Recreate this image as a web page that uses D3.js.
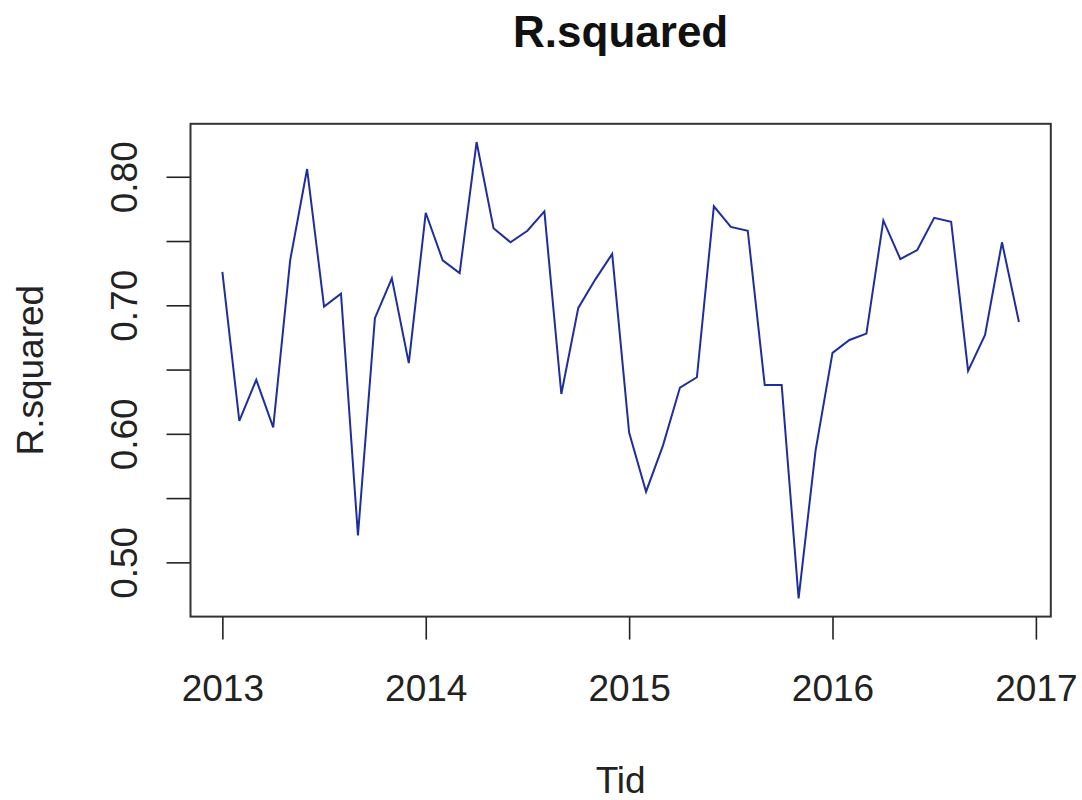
<!DOCTYPE html>
<html>
<head>
<meta charset="utf-8">
<script src="https://cdn.jsdelivr.net/npm/d3@7"></script>
<style>
  html, body { margin: 0; padding: 0; background: #fff; }
  svg { display: block; font-family: "Liberation Sans", Arial, Helvetica, sans-serif; }
</style>
</head>
<body>
<svg id="chart" width="1082" height="800"></svg>
<script>
// monthly R.squared, Jan 2013 .. Dec 2016
const startYear = 2013;
const rSquared = [
  0.726, 0.610, 0.642, 0.605, 0.735, 0.806, 0.699, 0.709, 0.521, 0.690, 0.721, 0.655,
  0.772, 0.735, 0.725, 0.827, 0.760, 0.749, 0.758, 0.773, 0.631, 0.698, 0.720, 0.740,
  0.601, 0.555, 0.591, 0.636, 0.644, 0.777, 0.761, 0.758, 0.638, 0.638, 0.472, 0.587,
  0.663, 0.673, 0.678, 0.766, 0.736, 0.743, 0.768, 0.765, 0.649, 0.677, 0.749, 0.687
];
const xTicks = [2013, 2014, 2015, 2016, 2017];
const yTicks = [0.50, 0.55, 0.60, 0.65, 0.70, 0.75, 0.80];
const yLabelled = [0.50, 0.60, 0.70, 0.80];

const titleText = "R.squared";
const xTitle = "Tid";
const yTitle = "R.squared";

const W = 1082, H = 800;
const plot = { left: 190.5, right: 1050.8, top: 123.8, bottom: 616.6 };

const data = rSquared.map((v, i) => ({ t: startYear + i / 12, v }));

// R-style 4% axis extension
const pad = ([a, b]) => { const d = (b - a) * 0.04; return [a - d, b + d]; };

const x = d3.scaleLinear().domain(pad(d3.extent(data, d => d.t))).range([plot.left, plot.right]);
const y = d3.scaleLinear().domain(pad(d3.extent(data, d => d.v))).range([plot.bottom, plot.top]);

const svg = d3.select("#chart");
const ink = "#222";

// x axis
const gx = svg.append("g")
  .attr("transform", `translate(0,${plot.bottom})`)
  .call(d3.axisBottom(x).tickValues(xTicks).tickSize(23).tickFormat(d3.format("d")));
gx.select(".domain").remove();
gx.selectAll(".tick line").attr("stroke", ink).attr("stroke-width", 1.6);
gx.selectAll(".tick text")
  .attr("y", 84).attr("dy", null)
  .attr("fill", ink)
  .style("font-size", "37px");

// y axis
const gy = svg.append("g")
  .attr("transform", `translate(${plot.left},0)`)
  .call(d3.axisLeft(y).tickValues(yTicks).tickSize(24)
    .tickFormat(d => yLabelled.some(l => Math.abs(l - d) < 1e-9) ? d3.format(".2f")(d) : ""));
gy.select(".domain").remove();
gy.selectAll(".tick line").attr("stroke", ink).attr("stroke-width", 1.6);
gy.selectAll(".tick text")
  .attr("transform", "rotate(-90)")
  .attr("x", 0).attr("y", -54).attr("dy", null)
  .attr("text-anchor", "middle")
  .attr("fill", ink)
  .style("font-size", "37px");

// box
svg.append("rect")
  .attr("x", plot.left).attr("y", plot.top)
  .attr("width", plot.right - plot.left).attr("height", plot.bottom - plot.top)
  .attr("fill", "none").attr("stroke", "#333").attr("stroke-width", 2);

// series
svg.append("path")
  .datum(data)
  .attr("fill", "none")
  .attr("stroke", "#1f2e9e")
  .attr("stroke-width", 2)
  .attr("stroke-linejoin", "miter")
  .attr("d", d3.line().x(d => x(d.t)).y(d => y(d.v)));

// titles
const cx = (plot.left + plot.right) / 2;
svg.append("text")
  .attr("x", cx).attr("y", 47)
  .attr("text-anchor", "middle")
  .style("font-size", "44px").style("font-weight", "bold")
  .attr("fill", "#111")
  .text(titleText);

svg.append("text")
  .attr("x", cx).attr("y", 793)
  .attr("text-anchor", "middle")
  .style("font-size", "37px")
  .attr("fill", ink)
  .text(xTitle);

svg.append("text")
  .attr("transform", `translate(43,${(plot.top + plot.bottom) / 2}) rotate(-90)`)
  .attr("text-anchor", "middle")
  .style("font-size", "37px")
  .attr("fill", ink)
  .text(yTitle);
</script>
</body>
</html>
